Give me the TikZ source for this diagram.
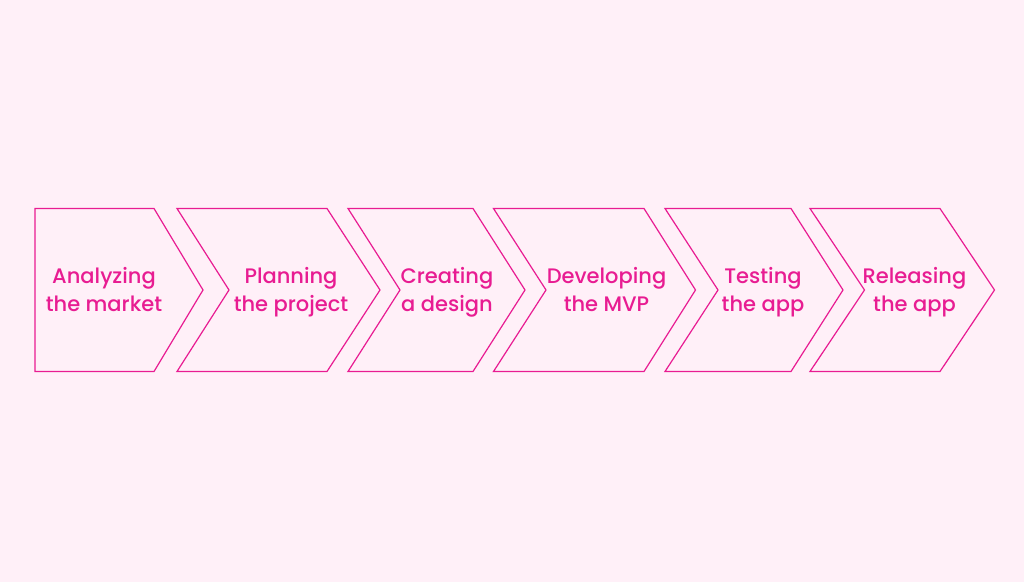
\documentclass[tikz,border=0pt]{standalone}
\usepackage{fontspec}
\setmainfont{Poppins Medium}
\definecolor{bgpink}{HTML}{FFF0F8}
\definecolor{magenta}{HTML}{E81C92}

\begin{document}
\begin{tikzpicture}[x=1pt,y=1pt]

\tikzset{chevron/.style={draw=magenta,line width=1.2pt,line join=miter}}
\tikzset{steplabel/.style={anchor=center,align=center,text=magenta,
  font=\fontsize{21}{28}\selectfont}}

%background
\fill[bgpink] (0,0) rectangle (1024,582);
\useasboundingbox (0,0) rectangle (1024,582);

%chevron 1 (flat left side)
\draw[chevron] (35,373.5)--(154,373.5)--(203,292)--(154,210.5)--(35,210.5)--cycle;

%chevrons 2 to 6
\foreach \l/\n/\r/\t in {177/229/327/380, 348/400/473/525, 493.5/546/644/695.5,
                         665/718/791/843, 810/864.5/940/994.5}
  \draw[chevron] (\l,373.5)--(\r,373.5)--(\t,292)--(\r,210.5)--(\l,210.5)--(\n,292)--cycle;

%labels
\node[steplabel] (analyze) at (104,290.6) {\strut Analyzing\\the market\strut};
\node[steplabel] (plan) at (291,290.6) {\strut Planning\\the project\strut};
\node[steplabel] (design) at (447,290.6) {\strut Creating\\a design\strut};
\node[steplabel] (mvp) at (606.5,290.6) {\strut Developing\\the MVP\strut};
\node[steplabel] (test) at (763,290.6) {\strut Testing\\the app\strut};
\node[steplabel] (release) at (914.5,290.6) {\strut Releasing\\the app\strut};

\end{tikzpicture}
\end{document}
